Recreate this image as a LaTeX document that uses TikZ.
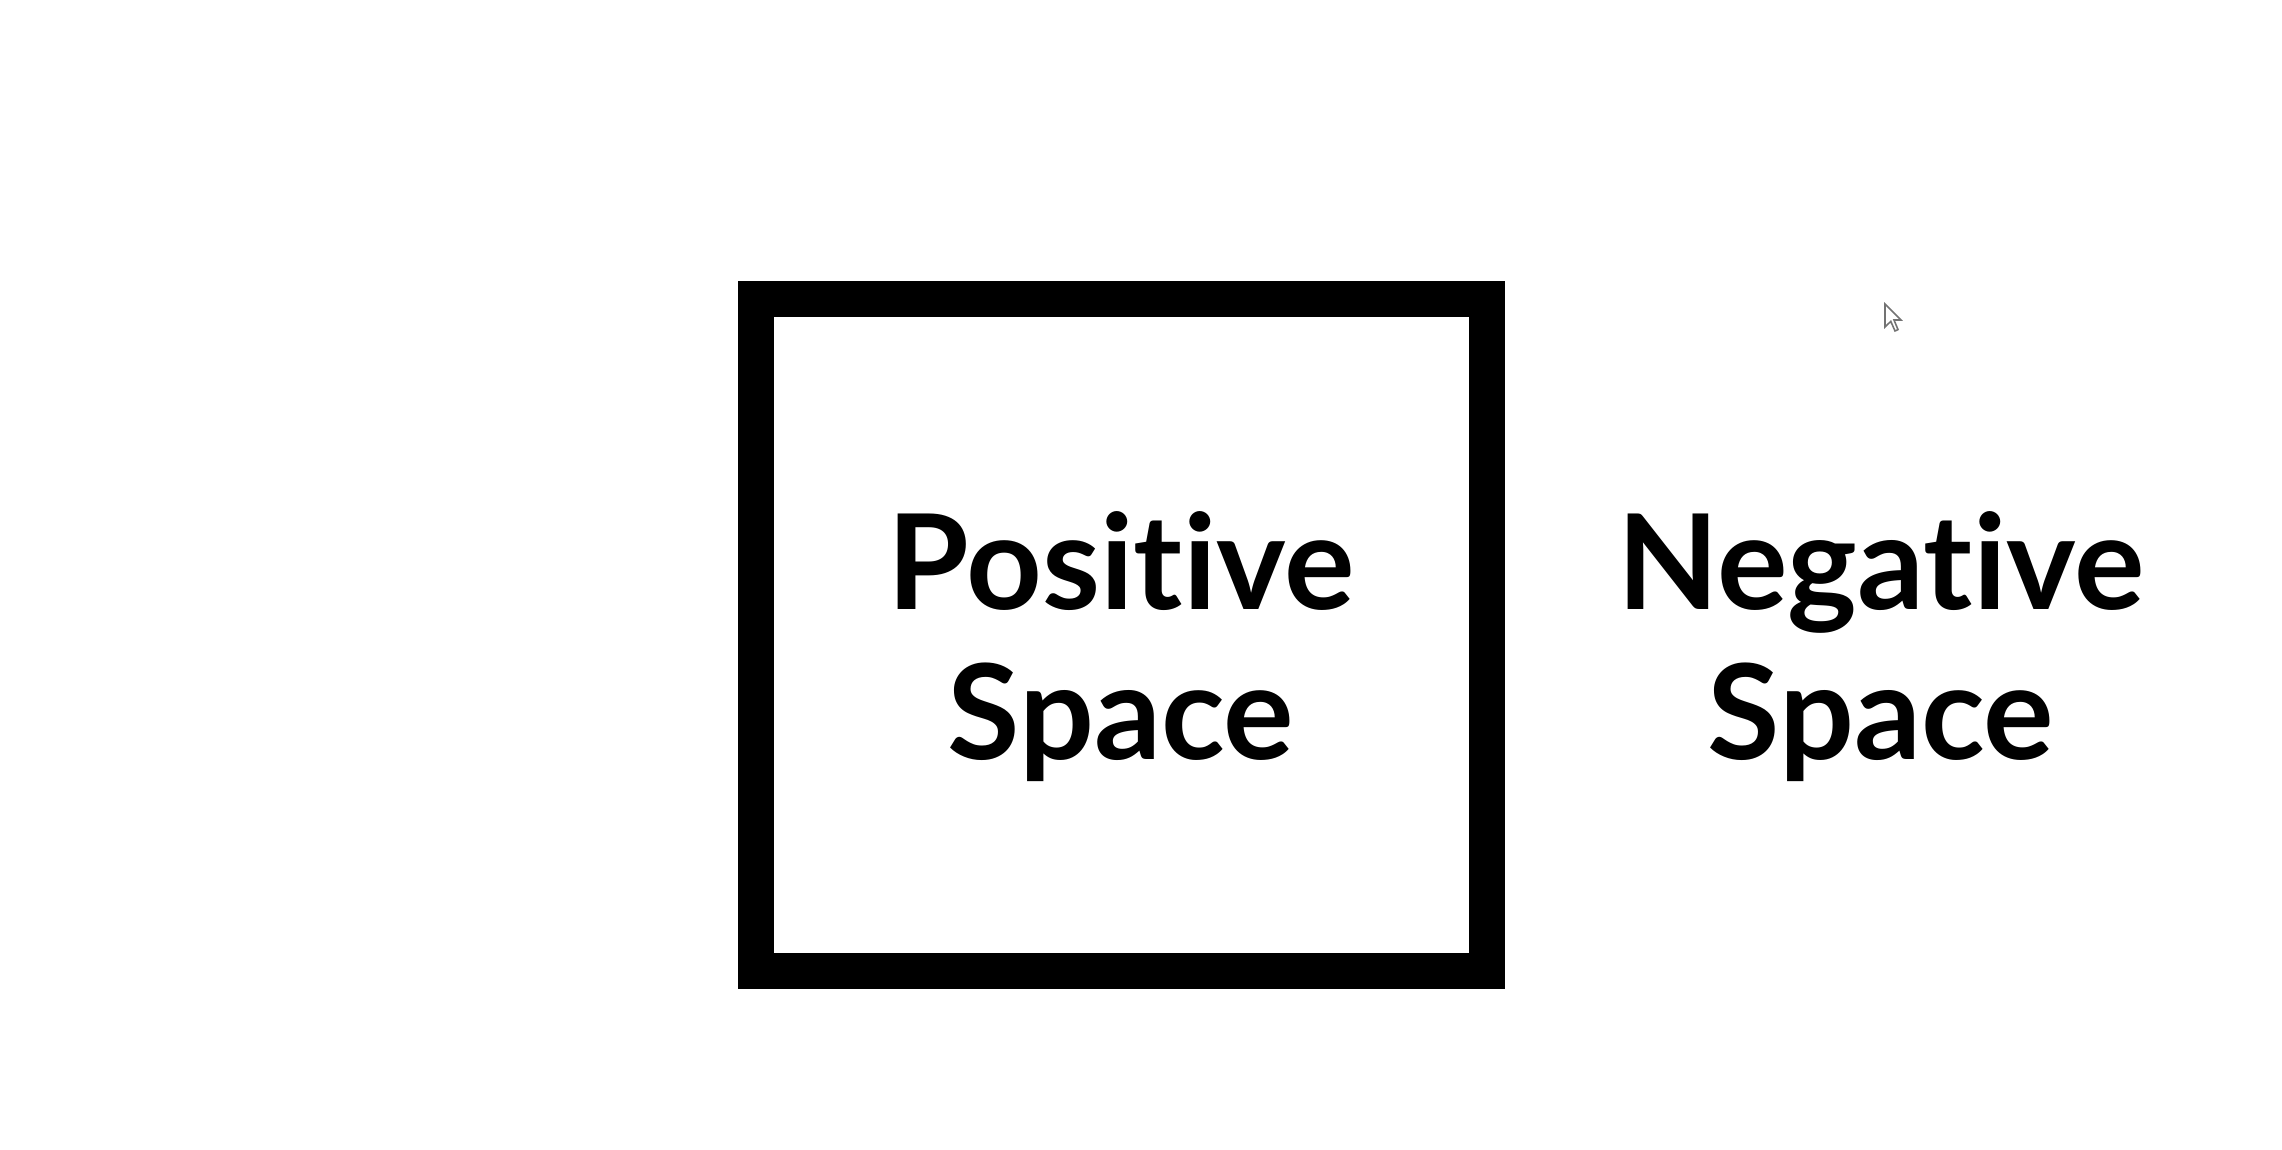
\documentclass[tikz,border=0pt]{standalone}
\usepackage{fontspec}
\newfontfamily\spacefont{Lato Bold}[Ligatures=NoCommon]
\usetikzlibrary{positioning}
\tikzset{
  spacebox/.style={draw, line width=0.36cm, inner sep=0pt,
    minimum width=7.31cm, minimum height=6.72cm},
  spacelabel/.style={font=\spacefont\fontsize{37.6}{42.8}\selectfont,
    align=center, inner sep=0pt, anchor=base},
  pointer/.style={draw=black!55, fill=white, line width=0.45pt, line join=miter},
}

\begin{document}
\begin{tikzpicture}
  \useasboundingbox[fill=white] (0,0) rectangle (22.82,-11.50);
  % the square and its label
  \node[spacebox] (posbox) at (11.215,-6.35) {};
  \node[spacelabel] (poslabel) at (11.21,-7.60) {Positive\\Space};
  % the empty space beside it
  \node[spacelabel] (neglabel) at (18.81,-7.60) {Negative\\Space};
  % mouse pointer
  \begin{scope}[shift={(18.85,-3.04)}, yscale=-1, x=0.01cm, y=0.01cm]
    \draw[pointer] (0,0) -- (0,23) -- (5.8,17.4) -- (10,27) -- (13,25.6)
      -- (9,16) -- (16,16) -- cycle;
  \end{scope}
\end{tikzpicture}
\end{document}
